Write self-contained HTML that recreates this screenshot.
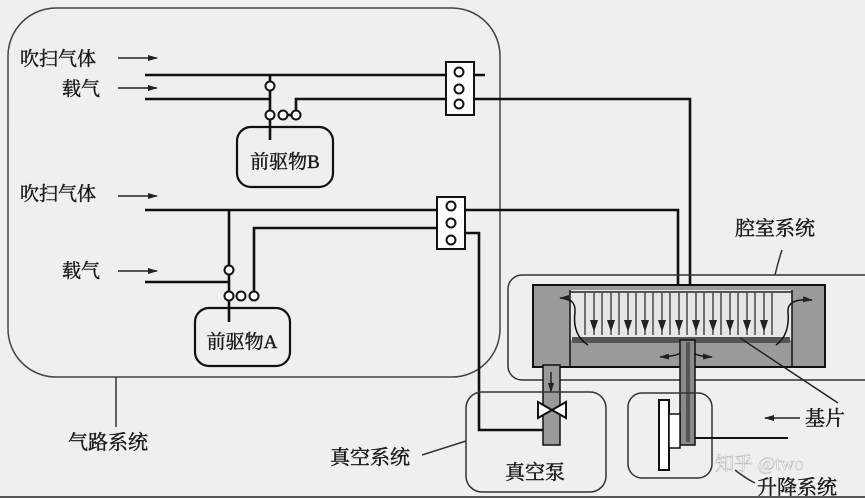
<!DOCTYPE html>
<html><head><meta charset="utf-8"><style>
html,body{margin:0;padding:0;background:#efefef;}
svg{display:block;}
text{font-family:"Liberation Serif","Noto Serif CJK SC",serif;fill:#1a1a1a;stroke:#1a1a1a;stroke-width:0.45;}
</style></head><body>
<svg width="865" height="498" viewBox="0 0 865 498" xmlns="http://www.w3.org/2000/svg">
<defs>
<marker id="ah" markerWidth="10" markerHeight="8" refX="9" refY="4" orient="auto" markerUnits="userSpaceOnUse"><path d="M0,1 L10,4 L0,7 Z" fill="#222"/></marker>
<marker id="ah2" markerWidth="10" markerHeight="8" refX="9" refY="4" orient="auto" markerUnits="userSpaceOnUse"><path d="M0,1 L10,4 L0,7 Z" fill="#222"/></marker>
</defs>
<rect width="865" height="498" fill="#efefef"/>
<rect x="8" y="8" width="492" height="369" rx="48" fill="none" stroke="#444" stroke-width="1.5"/>
<g font-size="19">
<text x="20" y="65">吹扫气体</text>
<text x="62" y="95">载气</text>
<text x="20" y="200">吹扫气体</text>
<text x="62" y="277">载气</text>
</g>
<g stroke="#222" stroke-width="1.5" marker-end="url(#ah)">
<line x1="118" y1="58" x2="157" y2="58"/>
<line x1="118" y1="88" x2="157" y2="88"/>
<line x1="118" y1="196" x2="157" y2="196"/>
<line x1="118" y1="271" x2="157" y2="271"/>
</g>
<g stroke="#111" stroke-width="2.6" fill="none">
<line x1="145" y1="75" x2="485" y2="75"/>
<polyline points="145,99 270,99"/>
<line x1="270" y1="75" x2="270" y2="140"/>
<polyline points="296,115 296,99 690,99 690,287"/>
<line x1="283" y1="115" x2="296" y2="115"/>
<line x1="145" y1="210" x2="437" y2="210"/>
<polyline points="465,210 678,210 678,287"/>
<line x1="229" y1="210" x2="229" y2="322"/>
<line x1="145" y1="282" x2="229" y2="282"/>
<polyline points="254,296 254,228 437,228"/>
<polyline points="465,233 479,233 479,430 545,430"/>
</g>
<g fill="#fff" stroke="#111" stroke-width="2">
<circle cx="270" cy="86" r="4.5"/>
<circle cx="270" cy="115" r="4.5"/><circle cx="283" cy="115" r="4.5"/><circle cx="296" cy="115" r="4.5"/>
<circle cx="229" cy="270" r="4.5"/>
<circle cx="229" cy="296" r="4.5"/><circle cx="241" cy="296" r="4.5"/><circle cx="254" cy="296" r="4.5"/>
<rect x="446" y="62" width="28" height="53"/>
<circle cx="459" cy="72" r="4.5"/><circle cx="459" cy="89" r="4.5"/><circle cx="459" cy="104" r="4.5"/>
<rect x="437" y="197" width="28" height="52"/>
<circle cx="451" cy="206" r="4.5"/><circle cx="451" cy="223" r="4.5"/><circle cx="451" cy="240" r="4.5"/>
</g>
<rect x="237" y="127" width="96" height="60" rx="14" fill="#efefef" stroke="#111" stroke-width="2.2"/>
<line x1="270" y1="127" x2="270" y2="140" stroke="#111" stroke-width="2.6"/>
<text x="285" y="168" font-size="19" text-anchor="middle">前驱物B</text>
<rect x="195" y="308" width="95" height="58" rx="14" fill="#efefef" stroke="#111" stroke-width="2.2"/>
<line x1="229" y1="308" x2="229" y2="322" stroke="#111" stroke-width="2.6"/>
<text x="242" y="348" font-size="19" text-anchor="middle">前驱物A</text>
<line x1="116" y1="377" x2="116" y2="427" stroke="#333" stroke-width="1.5"/>
<text x="68" y="449" font-size="20">气路系统</text>
<rect x="508" y="275" width="370" height="105" rx="14" fill="none" stroke="#333" stroke-width="1.5"/>
<text x="735" y="235" font-size="20">腔室系统</text>
<path d="M782,250 Q778,262 775,275" stroke="#333" stroke-width="1.5" fill="none"/>
<rect x="533" y="285" width="292" height="82" fill="#9a9a9a" stroke="#111" stroke-width="2"/>
<rect x="570" y="290" width="222" height="50" fill="#e6e6e6"/>
<line x1="570" y1="290" x2="570" y2="367" stroke="#111" stroke-width="1.5"/>
<line x1="792" y1="290" x2="792" y2="367" stroke="#111" stroke-width="1.5"/>
<line x1="570" y1="292" x2="792" y2="292" stroke="#222" stroke-width="1.5"/>
<rect x="572" y="337" width="218" height="6" fill="#555"/>
<g stroke="#222" stroke-width="1.2">
<line x1="585" y1="293" x2="585" y2="335"/><line x1="594" y1="293" x2="594" y2="335"/>
<line x1="602" y1="293" x2="602" y2="335"/><line x1="611" y1="293" x2="611" y2="335"/>
<line x1="619" y1="293" x2="619" y2="335"/><line x1="628" y1="293" x2="628" y2="335"/>
<line x1="636" y1="293" x2="636" y2="335"/><line x1="645" y1="293" x2="645" y2="335"/>
<line x1="653" y1="293" x2="653" y2="335"/><line x1="662" y1="293" x2="662" y2="335"/>
<line x1="670" y1="293" x2="670" y2="335"/><line x1="679" y1="293" x2="679" y2="335"/>
<line x1="687" y1="293" x2="687" y2="335"/><line x1="696" y1="293" x2="696" y2="335"/>
<line x1="704" y1="293" x2="704" y2="335"/><line x1="713" y1="293" x2="713" y2="335"/>
<line x1="721" y1="293" x2="721" y2="335"/><line x1="730" y1="293" x2="730" y2="335"/>
<line x1="738" y1="293" x2="738" y2="335"/><line x1="747" y1="293" x2="747" y2="335"/>
<line x1="755" y1="293" x2="755" y2="335"/><line x1="764" y1="293" x2="764" y2="335"/>
<line x1="772" y1="293" x2="772" y2="335"/>
</g>
<g fill="#222">
<path d="M590,320 l4,12 l4,-12z"/><path d="M607,320 l4,12 l4,-12z"/><path d="M624,320 l4,12 l4,-12z"/>
<path d="M641,320 l4,12 l4,-12z"/><path d="M658,320 l4,12 l4,-12z"/><path d="M675,320 l4,12 l4,-12z"/>
<path d="M692,320 l4,12 l4,-12z"/><path d="M709,320 l4,12 l4,-12z"/><path d="M726,320 l4,12 l4,-12z"/>
<path d="M743,320 l4,12 l4,-12z"/><path d="M760,320 l4,12 l4,-12z"/>
</g>
<g stroke="#111" stroke-width="1.5" fill="none">
<path d="M588,345 Q572,335 575,312 Q576,298 560,298" marker-end="url(#ah2)"/>
<path d="M776,345 Q790,335 788,312 Q787,298 812,300" marker-end="url(#ah2)"/>
<path d="M682,350 Q682,356 660,357" marker-end="url(#ah2)"/>
<path d="M692,350 Q692,356 712,357" marker-end="url(#ah2)"/>
</g>
<rect x="543" y="365" width="17" height="80" fill="#9a9a9a" stroke="#111" stroke-width="1.5"/>
<line x1="551" y1="372" x2="551" y2="392" stroke="#222" stroke-width="1.5" marker-end="url(#ah2)"/>
<rect x="680" y="340" width="15" height="105" fill="#8a8a8a" stroke="#111" stroke-width="1.5"/>
<rect x="686" y="342" width="4" height="100" fill="#555"/>
<rect x="466" y="392" width="140" height="100" rx="16" fill="none" stroke="#333" stroke-width="1.5"/>
<g fill="#fff" stroke="#111" stroke-width="2"><path d="M538,402 L566,418 L566,402 L538,418 Z"/></g>
<text x="505" y="479" font-size="20">真空泵</text>
<text x="330" y="464" font-size="20">真空系统</text>
<line x1="422" y1="455" x2="466" y2="441" stroke="#333" stroke-width="1.5"/>
<rect x="628" y="393" width="84" height="85" rx="14" fill="none" stroke="#333" stroke-width="1.5"/>
<rect x="659" y="400" width="10" height="70" fill="#fff" stroke="#111" stroke-width="2"/>
<rect x="669" y="414" width="11" height="34" fill="#fff" stroke="#111" stroke-width="1.5"/>
<line x1="695" y1="438" x2="788" y2="438" stroke="#111" stroke-width="2"/>
<line x1="800" y1="418" x2="765" y2="418" stroke="#222" stroke-width="1.5" marker-end="url(#ah2)"/>
<text x="805" y="425" font-size="20">基片</text>
<line x1="740" y1="338" x2="838" y2="403" stroke="#222" stroke-width="1.5"/>
<path d="M735,470 Q745,478 755,483" stroke="#333" stroke-width="1.5" fill="none"/>
<text x="757" y="494" font-size="20">升降系统</text>
<text x="715" y="470" font-size="19" style="fill:#fff;stroke:#bbb;stroke-width:0.6" font-family="Liberation Sans, Noto Sans CJK SC, sans-serif">知乎 @two</text>
<line x1="0" y1="497" x2="865" y2="497" stroke="#555" stroke-width="2"/>
</svg>
</body></html>
